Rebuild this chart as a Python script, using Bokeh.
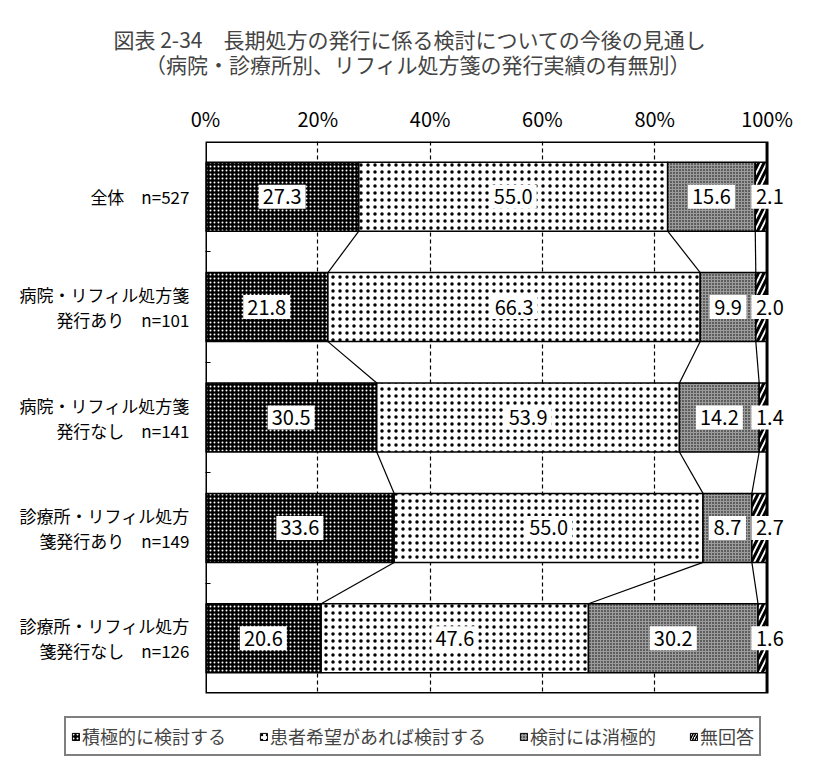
import numpy as np
from bokeh.plotting import figure
from bokeh.layouts import column
from bokeh.models import (ColumnDataSource, FixedTicker, Range1d,
                          Legend, LegendItem, Title)
from bokeh.embed import file_html
from bokeh.resources import INLINE

# ---- data ----
categories = [
    "全体\u3000n=527",
    "病院・リフィル処方箋\n発行あり\u3000n=101",
    "病院・リフィル処方箋\n発行なし\u3000n=141",
    "診療所・リフィル処方\n箋発行あり\u3000n=149",
    "診療所・リフィル処方\n箋発行なし\u3000n=126",
]
series_names = ["積極的に検討する", "患者希望があれば検討する", "検討には消極的", "無回答"]
active = [27.3, 21.8, 30.5, 33.6, 20.6]
if_requested = [55.0, 66.3, 53.9, 55.0, 47.6]
negative = [15.6, 9.9, 14.2, 8.7, 30.2]
no_answer = [2.1, 2.0, 1.4, 2.7, 1.6]
x_ticks = [0, 20, 40, 60, 80, 100]
x_tick_labels = ["0%", "20%", "40%", "60%", "80%", "100%"]
title_line1 = "図表 2-34　長期処方の発行に係る検討についての今後の見通し"
title_line2 = "（病院・診療所別、リフィル処方箋の発行実績の有無別）"

# ---- styles ----
FONT = "Noto Sans CJK JP"
BAR_H = 0.625
X_PAD = 4          # extra room right of 100% so the small labels can overhang
fills = ["black", "white", "#9c9c9c", "white"]
hatches = [".", ".", ".", "/"]
hatch_colors = ["white", "black", "black", "black"]
hatch_scales = [4, 7, 3, 11]
hatch_weights = [0.7, 0.5, 0.6, 3]

n = len(categories)
ypos = list(range(n))
series = [active, if_requested, negative, no_answer]
vals = np.array(series)
cum = np.cumsum(vals, axis=0)
lefts = cum - vals

src = ColumnDataSource(dict(y=ypos, s1=active, s2=if_requested, s3=negative, s4=no_answer))

p = figure(width=829, height=712, output_backend="svg", toolbar_location=None,
           x_range=Range1d(x_ticks[0], x_ticks[-1] + X_PAD), y_range=Range1d(n - 0.5, -0.5),
           x_axis_location="above", min_border_left=205, min_border_right=40,
           min_border_top=139, min_border_bottom=19)
p.frame_align = False
p.background_fill_color = "white"
p.border_fill_color = "white"
p.outline_line_color = None

# grid
p.xgrid.ticker = FixedTicker(ticks=[20, 40, 60, 80])
p.xgrid.grid_line_color = "black"
p.xgrid.grid_line_dash = "4 3"
p.xgrid.grid_line_width = 1.2
p.ygrid.grid_line_color = None

# bars
renderers = p.hbar_stack(["s1", "s2", "s3", "s4"], y="y", height=BAR_H, source=src,
                         fill_color=fills, hatch_pattern=hatches, hatch_color=hatch_colors,
                         hatch_scale=hatch_scales, hatch_weight=hatch_weights,
                         line_color="black", line_width=1.5)

# connector lines between bars
x0, y0, x1, y1 = [], [], [], []
for i in range(n - 1):
    for k in range(3):
        x0.append(cum[k][i]); y0.append(i + BAR_H / 2)
        x1.append(cum[k][i + 1]); y1.append(i + 1 - BAR_H / 2)
p.segment(x0=x0, y0=y0, x1=x1, y1=y1, line_color="black", line_width=1.2)

# plot-area border (0% .. 100%)
p.quad(left=[x_ticks[0]], right=[x_ticks[-1]], top=[-0.5], bottom=[n - 0.5],
       fill_color=None, line_color="black", line_width=3)

# value labels: white boxes + text
lx, ly, lt, lw = [], [], [], []
for k in range(4):
    for i in range(n):
        lx.append(lefts[k][i] + vals[k][i] / 2 if k < 3 else x_ticks[-1] + 0.5)
        ly.append(i)
        t = "%.1f" % vals[k][i]
        lt.append(t)
        lw.append(len(t) * 10 + 7)
box_src = ColumnDataSource(dict(x=lx, y=ly, w=lw, t=lt))
p.rect(x="x", y="y", width="w", height=24, width_units="screen", height_units="screen",
       source=box_src, fill_color="white", line_color=None)
p.text(x="x", y="y", text="t", source=box_src, text_align="center", text_baseline="middle",
       text_font={"value": FONT}, text_font_size="20px", text_color="black")

# axes
xa = p.xaxis[0]
xa.ticker = FixedTicker(ticks=x_ticks)
xa.major_label_overrides = {t: l for t, l in zip(x_ticks, x_tick_labels)}
xa.major_tick_line_color = None
xa.major_tick_out = 0
xa.major_tick_in = 0
xa.minor_tick_line_color = None
xa.axis_line_color = None
xa.major_label_standoff = 9
xa.major_label_text_font = FONT
xa.major_label_text_font_size = "20px"
xa.major_label_text_color = "black"

ya = p.yaxis[0]
ya.ticker = FixedTicker(ticks=ypos, minor_ticks=[i + 0.5 for i in range(n - 1)])
ya.major_label_overrides = {i: c for i, c in enumerate(categories)}
ya.major_tick_line_color = None
ya.major_tick_out = 0
ya.minor_tick_line_color = "black"
ya.minor_tick_in = 5
ya.minor_tick_out = 0
ya.axis_line_color = None
ya.major_label_standoff = 16
ya.major_label_text_font = FONT
ya.major_label_text_font_size = "17px"
ya.major_label_text_line_height = 1.0
ya.major_label_text_color = "black"

# title (two lines)
p.add_layout(Title(text=title_line1 + "\n\u3000\u3000" + title_line2, align="left", offset=-92,
                   standoff=42, text_font=FONT, text_font_size="21px",
                   text_font_style="normal", text_line_height=0.86), "above")

# legend in its own strip below the chart
lg = figure(width=829, height=57, output_backend="svg", toolbar_location=None,
            x_range=Range1d(0, 1), y_range=Range1d(0, 1),
            x_axis_location=None, y_axis_location=None,
            min_border=0, outline_line_color=None)
lg.frame_align = False
lg.grid.grid_line_color = None
lg.background_fill_color = "white"
lg.border_fill_color = "white"
swatches = []
for f, h, hc, hs, hw in zip(fills, hatches, hatch_colors, hatch_scales, hatch_weights):
    # swatch-only glyph kept outside the visible range of the legend strip
    swatches.append(lg.hbar(y=[-5], left=[0], right=[0], height=0.5, fill_color=f,
                            hatch_pattern=h, hatch_color=hc, hatch_scale=min(hs, 5),
                            hatch_weight=min(hw, 1.5), line_color="black", line_width=1))
items = [LegendItem(label=name, renderers=[r]) for name, r in zip(series_names, swatches)]
legend = Legend(items=items, orientation="horizontal", location=(64, 13),
                border_line_color="black", border_line_width=2,
                label_text_font=FONT, label_text_font_size="18px",
                glyph_width=9, glyph_height=9, label_standoff=2, spacing=33,
                padding=5, margin=0, background_fill_color="white",
                background_fill_alpha=1)
lg.add_layout(legend)

layout = column(p, lg, spacing=0)
open("out.html", "w").write(file_html(layout, INLINE))
